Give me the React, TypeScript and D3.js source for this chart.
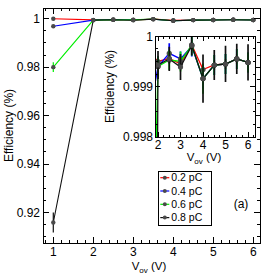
import * as d3 from "d3";

// ---- data ---------------------------------------------------------------
const vov = [1, 2, 2.5, 3, 3.5, 4, 4.5, 5, 5.5, 6];

const eff02 = [1.0, 0.9995, 0.99956, 0.99945, 0.99983, 0.99934, 0.99943, 0.99945, 0.99955, 0.99948];
const err02 = [0.0002, 0.0001, 0.0001, 0.0001, 0.0001, 0.0001, 0.0001, 0.0001, 0.0001, 0.0001];

const eff04 = [0.99686, 0.9994, 0.99966, 0.99955, 0.9998, 0.99916, 0.99943, 0.99945, 0.99955, 0.99948];
const err04 = [0.0004, 0.0002, 0.0002, 0.00015, 0.0002, 0.0002, 0.0002, 0.0002, 0.0002, 0.0002];

const eff06 = [0.98, 0.9994, 0.99953, 0.9995, 0.99982, 0.99916, 0.99943, 0.99945, 0.99955, 0.99948];
const err06 = [0.002, 0.0002, 0.0002, 0.0002, 0.0002, 0.0003, 0.0002, 0.0002, 0.0002, 0.0002];

const eff08 = [0.91587, 0.99943, 0.99955, 0.99939, 0.99982, 0.99916, 0.99943, 0.99945, 0.99955, 0.99948];
const err08 = [0.0041, 0.00028, 0.00024, 0.00026, 0.0002, 0.00048, 0.0003, 0.00036, 0.0003, 0.00036];

const seriesNames = ["0.2 pC", "0.4 pC", "0.6 pC", "0.8 pC"];
const seriesColors = ["#ff0000", "#0000ff", "#00ee00", "#111111"];

const mainXTicks = [1, 2, 3, 4, 5, 6];
const mainYTicks = [0.92, 0.94, 0.96, 0.98, 1];
const mainYLabels = ["0.92", "0.94", "0.96", "0.98", "1"];
const insetXTicks = [2, 3, 4, 5, 6];
const insetYTicks = [0.998, 0.999, 1];
const insetYLabels = ["0.998", "0.999", "1"];

const series = seriesNames.map((name, i) => ({
  name,
  color: seriesColors[i],
  y: [eff02, eff04, eff06, eff08][i],
  e: [err02, err04, err06, err08][i],
}));

const FONT = "'Liberation Sans', Arial, sans-serif";
const MARKER = "#4a4a4a";

type Frame = {
  id: string;
  x: d3.ScaleLinear<number, number>;
  y: d3.ScaleLinear<number, number>;
  xMajor: number[];
  yMajor: number[];
  xMinorStep: number;
  yMinorStep: number;
  major: number;
  minor: number;
};

// inward ticks on all four sides (ROOT style)
const FrameTicks = ({ f }: { f: Frame }) => {
  const [x0, x1] = f.x.range();
  const [y0, y1] = f.y.range(); // y0 bottom, y1 top
  const [dx0, dx1] = f.x.domain();
  const [dy0, dy1] = f.y.domain();
  const xMinor = d3.range(Math.ceil(dx0 / f.xMinorStep - 1e-6), Math.floor(dx1 / f.xMinorStep + 1e-6) + 1)
    .map((k) => k * f.xMinorStep);
  const yMinor = d3.range(Math.ceil(dy0 / f.yMinorStep - 1e-6), Math.floor(dy1 / f.yMinorStep + 1e-6) + 1)
    .map((k) => k * f.yMinorStep);
  const isMajor = (v: number, arr: number[]) => arr.some((m) => Math.abs(m - v) < 1e-9);
  return (
    <g stroke="#000" strokeWidth={1} shapeRendering="crispEdges">
      {xMinor.map((v, i) => {
        const len = isMajor(v, f.xMajor) ? f.major : f.minor;
        const px = f.x(v);
        return (
          <g key={"x" + i}>
            <line x1={px} x2={px} y1={y0} y2={y0 - len} />
            <line x1={px} x2={px} y1={y1} y2={y1 + len} />
          </g>
        );
      })}
      {yMinor.map((v, i) => {
        const len = isMajor(v, f.yMajor) ? f.major : f.minor;
        const py = f.y(v);
        return (
          <g key={"y" + i}>
            <line x1={x0} x2={x0 + len} y1={py} y2={py} />
            <line x1={x1} x2={x1 - len} y1={py} y2={py} />
          </g>
        );
      })}
      <rect x={x0} y={y1} width={x1 - x0} height={y0 - y1} fill="none" />
    </g>
  );
};

const Data = ({ f, lw, ew, r }: { f: Frame; lw: number; ew: number; r: number }) => {
  const line = d3
    .line<number>()
    .x((_, i) => f.x(vov[i]))
    .y((d) => f.y(d));
  return (
    <g clipPath={`url(#clip-${f.id})`}>
      {series.map((s) => (
        <g key={s.name}>
          {s.y.map((v, i) => (
            <line
              key={i}
              x1={f.x(vov[i])}
              x2={f.x(vov[i])}
              y1={f.y(v - s.e[i])}
              y2={f.y(v + s.e[i])}
              stroke={s.color}
              strokeWidth={ew}
            />
          ))}
          <path d={line(s.y) ?? ""} fill="none" stroke={s.color} strokeWidth={lw} />
          {s.y.map((v, i) => (
            <circle key={"m" + i} cx={f.x(vov[i])} cy={f.y(v)} r={r} fill={MARKER} />
          ))}
        </g>
      ))}
    </g>
  );
};

const VovTitle = ({ x, y }: { x: number; y: number }) => (
  <text x={x} y={y} textAnchor="middle" fontSize={11.5} fontFamily={FONT}>
    V<tspan fontSize={8} dy={2.5}>ov</tspan>
    <tspan dy={-2.5}> (V)</tspan>
  </text>
);

const App = () => {
  const main: Frame = {
    id: "main",
    x: d3.scaleLinear().domain([0.75, 6.175]).range([43.3, 260.3]),
    y: d3.scaleLinear().domain([0.90729, 1.00442]).range([243.3, 8]),
    xMajor: mainXTicks,
    yMajor: mainYTicks,
    xMinorStep: 0.2,
    yMinorStep: 0.005,
    major: 6,
    minor: 3,
  };
  const inset: Frame = {
    id: "inset",
    x: d3.scaleLinear().domain([1.88, 6.31]).range([155.3, 255]),
    y: d3.scaleLinear().domain([0.998, 1.0]).range([137, 36.3]),
    xMajor: insetXTicks,
    yMajor: insetYTicks,
    xMinorStep: 0.25,
    yMinorStep: 0.00025,
    major: 5,
    minor: 2.5,
  };

  const clip = (f: Frame) => {
    const [x0, x1] = f.x.range();
    const [y0, y1] = f.y.range();
    return (
      <clipPath id={`clip-${f.id}`} key={f.id}>
        <rect x={x0} y={y1} width={x1 - x0} height={y0 - y1} />
      </clipPath>
    );
  };

  return (
    <svg
      width={264}
      height={273}
      style={{ position: "absolute", left: 0, top: 0, background: "#fff" }}
    >
      <defs>
        {clip(main)}
        {clip(inset)}
      </defs>

      {/* main frame */}
      <Data f={main} lw={1.1} ew={1.2} r={2.2} />
      <FrameTicks f={main} />
      {mainXTicks.map((t) => (
        <text key={t} x={main.x(t)} y={256} textAnchor="middle" fontSize={12} fontFamily={FONT}>
          {t}
        </text>
      ))}
      {mainYTicks.map((t, i) => (
        <text key={t} x={40} y={main.y(t)} dy="0.35em" textAnchor="end" fontSize={12} fontFamily={FONT}>
          {mainYLabels[i]}
        </text>
      ))}
      <VovTitle x={149} y={270} />
      <text
        transform={`translate(13,125.5) rotate(-90)`}
        textAnchor="middle"
        fontSize={12}
        fontFamily={FONT}
      >
        Efficiency (%)
      </text>

      {/* inset */}
      <rect x={155.3} y={36.3} width={99.7} height={100.7} fill="#fff" />
      <Data f={inset} lw={1.3} ew={1.7} r={2.6} />
      <FrameTicks f={inset} />
      {insetXTicks.map((t) => (
        <text key={t} x={inset.x(t)} y={148.5} textAnchor="middle" fontSize={12} fontFamily={FONT}>
          {t}
        </text>
      ))}
      {insetYTicks.map((t, i) => (
        <text key={t} x={153} y={inset.y(t)} dy="0.35em" textAnchor="end" fontSize={12} fontFamily={FONT}>
          {insetYLabels[i]}
        </text>
      ))}
      <VovTitle x={204} y={161} />
      <text
        transform={`translate(114,86.5) rotate(-90)`}
        textAnchor="middle"
        fontSize={12}
        fontFamily={FONT}
      >
        Efficiency (%)
      </text>

      {/* legend */}
      <rect x={158} y={171} width={53.3} height={54.3} fill="#fff" stroke="#000" strokeWidth={1} shapeRendering="crispEdges" />
      {series.map((s, i) => {
        const ly = 177.7 + i * 13.3;
        return (
          <g key={s.name}>
            <line x1={160.3} x2={169.3} y1={ly} y2={ly} stroke={s.color} strokeWidth={1.2} />
            <circle cx={164.8} cy={ly} r={2} fill={MARKER} />
            <text x={171.3} y={ly} dy="0.35em" fontSize={10.5} fontFamily={FONT}>
              {s.name}
            </text>
          </g>
        );
      })}
      <text x={241} y={208} textAnchor="middle" fontSize={12} fontFamily={FONT}>
        (a)
      </text>
    </svg>
  );
};

export default App;
